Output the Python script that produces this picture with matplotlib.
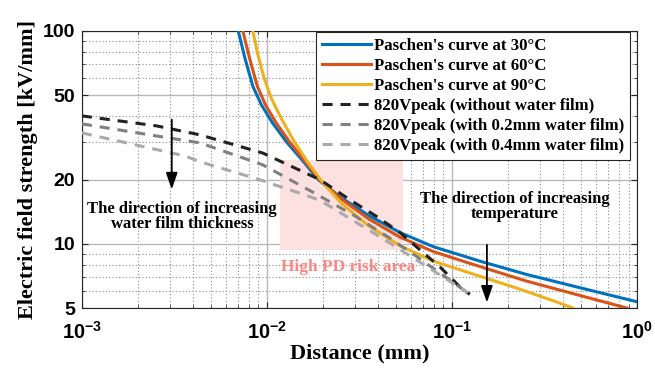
import numpy as np
import matplotlib
matplotlib.use("Agg")
import matplotlib.pyplot as plt
from matplotlib.ticker import LogLocator, NullFormatter, FixedLocator, FixedFormatter

plt.rcParams['mathtext.fontset'] = 'custom'
plt.rcParams['mathtext.rm'] = 'Liberation Sans:bold'
plt.rcParams['mathtext.default'] = 'rm'

# Paschen's curves (distance mm, field kV/mm)
x30 = [0.00700, 0.00759, 0.00839, 0.00933, 0.01072, 0.0128, 0.01585, 0.0190, 0.0251, 0.0355,
       0.0524, 0.0794, 0.1416, 0.2512, 0.501, 1.0]
y30 = [100, 75, 55, 45, 37, 30, 24.2, 20, 16.5, 13.6, 11.3, 9.7, 8.3, 7.2, 6.2, 5.35]
x60 = [0.00741, 0.00804, 0.00887, 0.00982, 0.01122, 0.0133, 0.01622, 0.0193, 0.0251, 0.0355,
       0.0524, 0.0794, 0.125, 0.2512, 0.501, 0.881]
y60 = [100, 75, 55, 45, 37, 30, 24.2, 20, 16.3, 13.1, 10.75, 9.2, 8.1, 6.7, 5.7, 5.0]
x90 = [0.00839, 0.00891, 0.00966, 0.01059, 0.01202, 0.01413, 0.0166, 0.0197, 0.0251, 0.0348,
       0.0524, 0.0794, 0.125, 0.2239, 0.35, 0.45]
y90 = [100, 78, 60, 48, 38.5, 30, 24.2, 19.8, 15.6, 12.3, 9.8, 8.3, 7.3, 6.2, 5.42, 5.0]

# 820Vpeak field curves
xd0 = [0.001, 0.00254, 0.00435, 0.0095, 0.0194, 0.0281, 0.0394, 0.0524, 0.0671, 0.0861, 0.1146, 0.125]
yd0 = [39.9, 35.8, 32.5, 26.7, 20, 16.1, 13.4, 11.3, 9.38, 7.8, 6.08, 5.8]
xd2 = [0.001, 0.00254, 0.00435, 0.0095, 0.0177, 0.03, 0.045, 0.0648, 0.123]
yd2 = [36.6, 32.1, 29.8, 23.5, 17.5, 13.5, 10.8, 8.7, 5.85]
xd4 = [0.001, 0.0036, 0.00435, 0.00916, 0.0151, 0.0194, 0.0408, 0.122]
yd4 = [33.2, 25.9, 24.3, 20, 17.3, 16.0, 10.8, 5.9]

labels = ["Paschen's curve at 30°C", "Paschen's curve at 60°C", "Paschen's curve at 90°C",
          "820Vpeak (without water film)", "820Vpeak (with 0.2mm water film)",
          "820Vpeak (with 0.4mm water film)"]

risk_x = [0.01175, 0.0543]
risk_y = [9.4, 24.8]

serif = 'Liberation Serif'

fig = plt.figure(figsize=(6.55, 3.77), dpi=100)
ax = fig.add_axes([0.125, 0.183, 0.8475, 0.735])

ax.fill_between(risk_x, risk_y[0], risk_y[1], color='#fde0e0', lw=0, zorder=1)

ax.plot(x30, y30, color='#0072BD', lw=2.2, label=labels[0], zorder=4)
ax.plot(x60, y60, color='#D95319', lw=2.2, label=labels[1], zorder=4)
ax.plot(x90, y90, color='#EDB120', lw=2.2, label=labels[2], zorder=4)
ax.plot(xd0, yd0, color='#222222', lw=2.2, dashes=(3.3, 2.6), label=labels[3], zorder=5)
ax.plot(xd2, yd2, color='#808080', lw=2.2, dashes=(3.3, 2.6), label=labels[4], zorder=5)
ax.plot(xd4, yd4, color='#aaaaaa', lw=2.2, dashes=(3.3, 2.6), label=labels[5], zorder=5)

ax.set_xscale('log')
ax.set_yscale('log')
ax.set_xlim(1e-3, 1)
ax.set_ylim(5, 100)

ax.yaxis.set_major_locator(FixedLocator([5, 10, 20, 50, 100]))
ax.yaxis.set_major_formatter(FixedFormatter(['5', '10', '20', '50', '100']))
ax.yaxis.set_minor_locator(LogLocator(base=10, subs=np.arange(2, 10)))
ax.yaxis.set_minor_formatter(NullFormatter())
ax.xaxis.set_major_locator(FixedLocator([1e-3, 1e-2, 1e-1, 1]))
ax.xaxis.set_major_formatter(FixedFormatter(['$10^{-3}$', '$10^{-2}$', '$10^{-1}$', '$10^{0}$']))
ax.xaxis.set_minor_locator(LogLocator(base=10, subs=np.arange(2, 10)))
ax.xaxis.set_minor_formatter(NullFormatter())

ax.grid(True, which='major', color='#b8b8b8', lw=1.0, ls='-', zorder=0)
ax.grid(True, which='minor', color='#8c8c8c', lw=0.8, ls=(0, (1, 2)), zorder=0)
ax.set_axisbelow(True)

ax.tick_params(which='both', direction='in', top=True, right=True, color='#262626')
ax.tick_params(which='major', length=4)
ax.tick_params(which='minor', length=2)
ax.tick_params(axis='y', pad=5)
ax.tick_params(axis='x', pad=9)
for t in ax.get_yticklabels():
    t.set_fontfamily('Liberation Sans')
    t.set_fontweight('bold')
    t.set_fontsize(14)
for t in ax.get_xticklabels():
    t.set_fontsize(14.5)
for s in ax.spines.values():
    s.set_color('#262626')
    s.set_linewidth(0.8)

ax.set_xlabel('Distance (mm)', fontfamily=serif, fontweight='bold', fontsize=16, labelpad=1)
ax.set_ylabel('Electric field strength [kV/mm]', fontfamily=serif, fontweight='bold', fontsize=16, labelpad=3)

leg = ax.legend(loc='upper right', bbox_to_anchor=(0.9874, 0.997),
                prop={'family': serif, 'weight': 'bold', 'size': 12.1},
                fancybox=False, framealpha=1, edgecolor='#262626', borderaxespad=0,
                handlelength=2.9, handletextpad=0.2, labelspacing=0.24, borderpad=0.35)
leg.get_frame().set_linewidth(0.8)
leg.set_zorder(10)

arrow = dict(arrowstyle='-|>,head_width=0.35,head_length=1.0', color='k', lw=1.3)
ax.annotate('', xy=(0.00306, 17.5), xytext=(0.00306, 39.5), arrowprops=arrow, zorder=6)
ax.annotate('', xy=(0.1545, 5.15), xytext=(0.1545, 10.2), arrowprops=arrow, zorder=6)

ax.text(0.00347, 13.5, 'The direction of increasing\nwater film thickness', ha='center', va='center',
        fontfamily=serif, fontweight='bold', fontsize=12, linespacing=0.9, zorder=6)
ax.text(0.219, 15.0, 'The direction of increasing\ntemperature', ha='center', va='center',
        fontfamily=serif, fontweight='bold', fontsize=12, linespacing=0.9, zorder=6)
ax.text(0.0274, 7.8, 'High PD risk area', ha='center', va='center', color='#ff8585',
        fontfamily=serif, fontweight='bold', fontsize=12.5, zorder=6)

fig.savefig('out.png', dpi=100)
